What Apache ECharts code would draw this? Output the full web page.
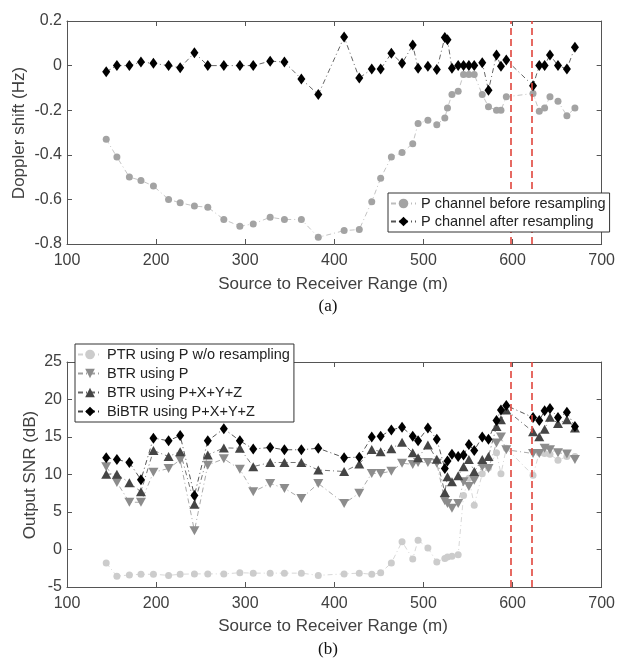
<!DOCTYPE html>
<html>
<head>
<meta charset="utf-8">
<title>Doppler shift / Output SNR</title>
<script src="https://cdn.jsdelivr.net/npm/echarts@6/dist/echarts.min.js"></script>
<style>
  html, body { margin: 0; padding: 0; background: #fff; }
  #chart { width: 618px; height: 662px; }
</style>
</head>
<body>
<div id="chart"></div>
<script>
// source to receiver range (m), shared by both panels
var ranges = [144, 156, 170, 183, 197, 214, 227, 243, 258, 276, 294, 309, 328, 344, 363,
              382, 411, 428, 442, 452, 464, 476, 488, 494, 505, 515, 524, 527, 532, 539,
              545, 551, 557, 566, 573, 582, 587, 593, 623, 630, 636, 642, 651, 661, 670];

// (a) doppler shift (Hz)
var dopplerBefore = [-0.33, -0.41, -0.50, -0.515, -0.54, -0.60, -0.615, -0.63, -0.635, -0.69,
                     -0.72, -0.71, -0.68, -0.69, -0.69, -0.77, -0.74, -0.735, -0.61, -0.505,
                     -0.41, -0.39, -0.35, -0.26, -0.245, -0.265, -0.235, -0.19, -0.13, -0.115,
                     -0.04, -0.04, -0.04, -0.13, -0.185, -0.20, -0.20, -0.14, -0.125, -0.205,
                     -0.19, -0.14, -0.16, -0.225, -0.19];
var dopplerAfter = [-0.028, 0, 0, 0.016, 0.01, 0, -0.01, 0.058, 0, 0,
                    0, 0, 0.02, 0.016, -0.06, -0.13, 0.128, -0.056, -0.015, -0.015,
                    0.055, 0.01, 0.092, -0.012, -0.003, -0.018, 0.126, 0.116, -0.012, 0,
                    0, 0, 0, 0.013, -0.11, 0.048, -0.003, 0.025, -0.09, 0,
                    0, 0.048, 0, -0.015, 0.082];

// (b) output SNR (dB)
var snrPtr = [-1.8, -3.55, -3.4, -3.3, -3.3, -3.45, -3.3, -3.25, -3.25, -3.25,
              -3.1, -3.15, -3.15, -3.15, -3.15, -3.45, -3.25, -3.15, -3.3, -3.1,
              -1.8, 1.05, -1.25, 1.25, 0.2, -1.65, -1.2, -1.0, -0.9, -0.7,
              7.2, 9.5, 5.9, 10.1, 10.9, 12.9, 10.1, 13.5, 9.9, 12.9,
              12.8, 12.7, 11.9, 12.4, 12.4];
var snrBtrP = [11.05, 8.95, 6.3, 6.3, 10.3, 10.8, 11.95, 2.5, 11.25, 12.1,
               10.7, 7.7, 8.8, 8.15, 6.8, 8.8, 6.15, 7.5, 10.15, 10.15,
               10.45, 11.5, 11.35, 11.6, 11.6, 11.5, 6.5, 6.15, 5.5, 6.15,
               9.05, 8.4, 9.25, 11.05, 10.8, 14.2, 15.0, 13.3, 12.8, 12.8,
               13.5, 13.3, 12.9, 12.75, 12.0];
var snrBtrPxyz = [10.05, 10.05, 8.9, 7.7, 13.2, 12.4, 13.05, 6.05, 12.6, 13.55,
                  13.5, 11.05, 11.6, 11.6, 11.6, 10.6, 10.4, 11.4, 13.35, 13.05,
                  13.45, 14.3, 12.9, 12.25, 13.95, 12.05, 7.6, 9.7, 9.05, 9.85,
                  11.05, 12.0, 10.4, 12.0, 12.4, 16.4, 17.3, 18.6, 15.7, 15.05,
                  16.05, 17.65, 16.8, 17.3, 16.2];
var snrBibtr = [12.25, 12.0, 11.6, 9.3, 14.85, 14.5, 15.2, 7.2, 14.5, 16.1,
                14.5, 13.4, 13.6, 13.3, 13.3, 13.5, 12.25, 12.3, 15.0, 15.1,
                15.95, 16.3, 15.1, 14.5, 16.2, 14.7, 10.8, 11.8, 12.7, 12.4,
                12.6, 14.0, 13.2, 15.0, 14.7, 17.2, 18.6, 19.2, 17.6, 17.2,
                18.5, 18.8, 17.6, 18.3, 16.4];

// red dashed markers
var markRanges = [598, 621];

var FONT = 'Arial, "Liberation Sans", sans-serif';
var SERIF = '"Times New Roman", "Liberation Serif", serif';
var AXIS_COLOR = '#555';
var TEXT_COLOR = '#404040';
var DASHDOT = [5, 3, 1, 3];
var DOWN_TRI = 'path://M0,0 L10,0 L5,9 Z';

function pairs(ys) {
    return ranges.map(function (x, i) { return [x, ys[i]]; });
}

function xAxisPair(idx, showLabel) {
    return [
        {
            type: 'value', gridIndex: idx, position: 'bottom',
            min: 100, max: 700, interval: 100,
            axisLine: { onZero: false, lineStyle: { color: AXIS_COLOR } },
            axisTick: { inside: true, length: 5, lineStyle: { color: AXIS_COLOR } },
            axisLabel: { show: showLabel, margin: 9, color: TEXT_COLOR, fontSize: 16, fontFamily: FONT },
            splitLine: { show: false }
        },
        {
            type: 'value', gridIndex: idx, position: 'top',
            min: 100, max: 700, interval: 100,
            axisLine: { onZero: false, lineStyle: { color: AXIS_COLOR } },
            axisTick: { inside: true, length: 5, lineStyle: { color: AXIS_COLOR } },
            axisLabel: { show: false },
            splitLine: { show: false }
        }
    ];
}

function yAxisPair(idx, min, max, interval) {
    return [
        {
            type: 'value', gridIndex: idx, position: 'left',
            min: min, max: max, interval: interval,
            axisLine: { show: true, onZero: false, lineStyle: { color: AXIS_COLOR } },
            axisTick: { show: true, inside: true, length: 5, lineStyle: { color: AXIS_COLOR } },
            axisLabel: {
                margin: 5, color: TEXT_COLOR, fontSize: 16, fontFamily: FONT,
                formatter: function (v) { return String(Math.round(v * 10) / 10); }
            },
            splitLine: { show: false }
        },
        {
            type: 'value', gridIndex: idx, position: 'right',
            min: min, max: max, interval: interval,
            axisLine: { show: true, onZero: false, lineStyle: { color: AXIS_COLOR } },
            axisTick: { show: true, inside: true, length: 5, lineStyle: { color: AXIS_COLOR } },
            axisLabel: { show: false },
            splitLine: { show: false }
        }
    ];
}

function lineSeries(name, ys, xIdx, yIdx, opt) {
    return {
        name: name,
        type: 'line',
        xAxisIndex: xIdx,
        yAxisIndex: yIdx,
        data: pairs(ys),
        symbol: opt.symbol,
        symbolSize: opt.size,
        showSymbol: true,
        itemStyle: { color: opt.color, borderWidth: 0 },
        lineStyle: { color: opt.lineColor, width: 0.9, type: DASHDOT },
        z: opt.z || 2
    };
}

function redLines(xIdx, yIdx) {
    return {
        name: '_marks',
        type: 'line',
        xAxisIndex: xIdx,
        yAxisIndex: yIdx,
        data: [],
        silent: true,
        markLine: {
            silent: true,
            symbol: ['none', 'none'],
            label: { show: false },
            lineStyle: { color: '#e0453c', type: [7, 4], width: 1.6 },
            data: markRanges.map(function (v) { return { xAxis: v }; })
        }
    };
}

var chart = echarts.init(document.getElementById('chart'), null, { renderer: 'canvas' });

var legendText = { color: '#222', fontSize: 14.5, fontFamily: FONT, lineHeight: 15 };

var option = {
    animation: false,
    backgroundColor: '#fff',
    grid: [
        { left: 67, top: 21, width: 538, height: 223 },
        { left: 67, top: 362, width: 538, height: 225 }
    ],
    xAxis: xAxisPair(0, true).concat(xAxisPair(1, true)),
    yAxis: yAxisPair(0, -0.8, 0.2, 0.2).concat(yAxisPair(1, -5, 25, 5)),
    legend: [
        {
            data: ['P channel before resampling', 'P channel after resampling'],
            orient: 'vertical',
            left: 388, top: 193,
            padding: [3, 4, 3, 2],
            itemGap: 3,
            itemWidth: 25, itemHeight: 12,
            backgroundColor: '#fff',
            borderColor: '#333', borderWidth: 1,
            textStyle: legendText,
            z: 10
        },
        {
            data: ['PTR using P w/o resampling', 'BTR using P', 'BTR using P+X+Y+Z', 'BiBTR using P+X+Y+Z'],
            orient: 'vertical',
            left: 75, top: 344,
            padding: [3, 4, 3, 2],
            itemGap: 4,
            itemWidth: 24, itemHeight: 12,
            backgroundColor: '#fff',
            borderColor: '#333', borderWidth: 1,
            textStyle: legendText,
            z: 10
        }
    ],
    series: [
        redLines(0, 0),
        lineSeries('P channel before resampling', dopplerBefore, 0, 0,
            { symbol: 'circle', size: 7, color: '#a3a3a3', lineColor: '#bdbdbd' }),
        lineSeries('P channel after resampling', dopplerAfter, 0, 0,
            { symbol: 'diamond', size: [8, 11], color: '#000', lineColor: '#555' }),

        redLines(2, 2),
        lineSeries('PTR using P w/o resampling', snrPtr, 2, 2,
            { symbol: 'circle', size: 7, color: '#cccccc', lineColor: '#d2d2d2' }),
        lineSeries('BTR using P', snrBtrP, 2, 2,
            { symbol: DOWN_TRI, size: [10, 9], color: '#8c8c8c', lineColor: '#a0a0a0' }),
        lineSeries('BTR using P+X+Y+Z', snrBtrPxyz, 2, 2,
            { symbol: 'triangle', size: [10, 9], color: '#454545', lineColor: '#666' }),
        lineSeries('BiBTR using P+X+Y+Z', snrBibtr, 2, 2,
            { symbol: 'diamond', size: [8, 11], color: '#000', lineColor: '#444' })
    ],
    graphic: [
        {
            type: 'text', x: 19, y: 133, rotation: Math.PI / 2,
            style: { text: 'Doppler shift (Hz)', fill: TEXT_COLOR, font: '17px ' + FONT,
                     textAlign: 'center', textVerticalAlign: 'middle' }
        },
        {
            type: 'text', x: 333, y: 284,
            style: { text: 'Source to Receiver Range (m)', fill: TEXT_COLOR, font: '17px ' + FONT,
                     textAlign: 'center', textVerticalAlign: 'middle' }
        },
        {
            type: 'text', x: 328, y: 307,
            style: { text: '(a)', fill: '#111', font: '17px ' + SERIF,
                     textAlign: 'center', textVerticalAlign: 'middle' }
        },
        {
            type: 'text', x: 30, y: 475, rotation: Math.PI / 2,
            style: { text: 'Output SNR (dB)', fill: TEXT_COLOR, font: '17px ' + FONT,
                     textAlign: 'center', textVerticalAlign: 'middle' }
        },
        {
            type: 'text', x: 333, y: 626,
            style: { text: 'Source to Receiver Range (m)', fill: TEXT_COLOR, font: '17px ' + FONT,
                     textAlign: 'center', textVerticalAlign: 'middle' }
        },
        {
            type: 'text', x: 328, y: 650,
            style: { text: '(b)', fill: '#111', font: '17px ' + SERIF,
                     textAlign: 'center', textVerticalAlign: 'middle' }
        }
    ]
};

chart.setOption(option);
</script>
</body>
</html>
